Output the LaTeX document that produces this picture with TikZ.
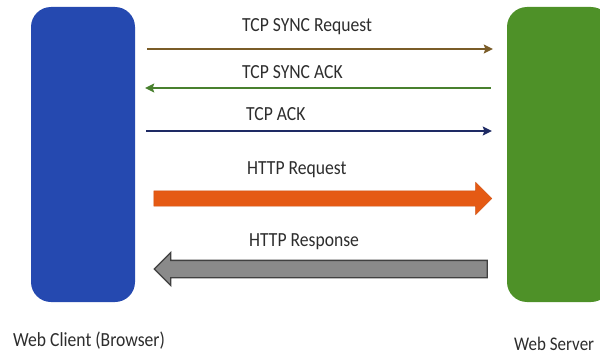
\documentclass[tikz,border=0pt]{standalone}
\usepackage{fontspec}
\setmainfont[FakeStretch=0.88]{Carlito}
\usetikzlibrary{arrows.meta,shapes.arrows}
\definecolor{clientblue}{RGB}{37,73,176}
\definecolor{servergreen}{RGB}{78,145,40}
\definecolor{synbrown}{RGB}{122,92,40}
\definecolor{ackgreen}{RGB}{72,128,46}
\definecolor{acknavy}{RGB}{30,42,100}
\definecolor{reqorange}{RGB}{229,90,20}
\definecolor{respgray}{RGB}{138,138,138}
\definecolor{labeltext}{RGB}{45,45,45}
\tikzset{
  host/.style={rectangle, rounded corners=20pt, minimum width=104pt, minimum height=295pt, inner sep=0pt},
  msg/.style={line width=1.5pt, -{Stealth[length=9pt,width=9pt,inset=1.5pt]}},
  msgtext/.style={text=labeltext, font=\fontsize{20}{24}\selectfont, inner sep=0pt, anchor=base west},
  fatarrow/.style={single arrow, inner xsep=0pt, single arrow head indent=0pt, anchor=center},
}
\begin{document}
\begin{tikzpicture}[x=1pt,y=-1pt]
\useasboundingbox (0,0) rectangle (600,353);
\clip (0,0) rectangle (600,353);
% the two hosts
\node[host, fill=clientblue] (client) at (83,154.5) {};
\node[host, fill=servergreen] (server) at (559,154.5) {};
% TCP handshake
\draw[msg, synbrown, shorten <=12pt, shorten >=14pt] (client.east |- 0,49) -- (server.west |- 0,49);
\draw[msg, ackgreen, shorten <=16pt, shorten >=10pt] (server.west |- 0,88) -- (client.east |- 0,88);
\draw[msg, acknavy, shorten <=11pt, shorten >=15pt] (client.east |- 0,131) -- (server.west |- 0,131);
\node[msgtext] (l1) at (242,32) {TCP SYNC Request};
\node[msgtext] (l2) at (242,79) {TCP SYNC ACK};
\node[msgtext] (l3) at (246,120) {TCP ACK};
% HTTP exchange
\node[fatarrow, fill=reqorange, draw=reqorange!90!black, line width=0.4pt, inner ysep=7.5pt,
      minimum height=338pt, single arrow head extend=8.5pt] (req) at (319,198.5) {};
\node[fatarrow, fill=respgray, draw=black!75, line width=1.3pt, shape border rotate=180, inner ysep=8pt,
      minimum height=333pt, single arrow head extend=8pt] (resp) at (325,269) {};
\node[msgtext] (l4) at (247,174) {HTTP Request};
\node[msgtext] (l5) at (249,246) {HTTP Response};
% host captions
\node[msgtext] (c1) at (13,346) {Web Client (Browser)};
\node[msgtext, font=\fontsize{19.3}{23}\selectfont] (c2) at (514,350) {Web Server};
\end{tikzpicture}
\end{document}
